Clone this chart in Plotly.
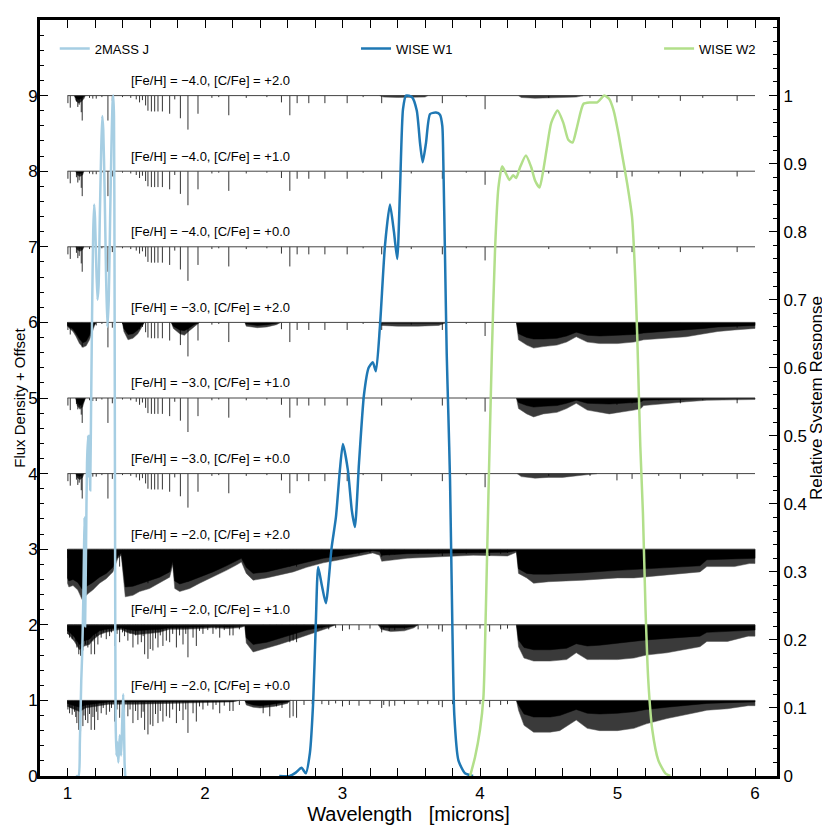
"""Synthetic spectra of carbon-enhanced stars with 2MASS J / WISE filter curves."""

import plotly.graph_objects as go

FONT = "Liberation Sans, Arial, Helvetica, sans-serif"
J_COLOR = "#a6cee3"
W1_COLOR = "#1f78b4"
W2_COLOR = "#b2df8a"

# --- spectra: vertical offset, [Fe/H], [C/Fe] ---
OFFSETS = [9, 8, 7, 6, 5, 4, 3, 2, 1]
FEH = [-4.0, -4.0, -4.0, -3.0, -3.0, -3.0, -2.0, -2.0, -2.0]
CFE = [2.0, 1.0, 0.0, 2.0, 1.0, 0.0, 2.0, 1.0, 0.0]
WL_START = 1.0
WL_END = 6.0

# individual absorption lines (wavelength [micron], depth below continuum)
LINES_WEAK = [
    (1.003, 0.10), (1.02, 0.16), (1.065, 0.08), (1.075, 0.15), (1.085, 0.12),
    (1.10, 0.22), (1.107, 0.33), (1.16, 0.03), (1.184, 0.04), (1.209, 0.04),
    (1.25, 0.02), (1.294, 0.33), (1.326, 0.07), (1.40, 0.02), (1.46, 0.03),
    (1.50, 0.05), (1.524, 0.09), (1.545, 0.06), (1.568, 0.13), (1.585, 0.20),
    (1.61, 0.21), (1.634, 0.21), (1.658, 0.21), (1.69, 0.21), (1.743, 0.24),
    (1.78, 0.05), (1.821, 0.30), (1.876, 0.45), (1.949, 0.24), (2.05, 0.03),
    (2.10, 0.02), (2.173, 0.26), (2.30, 0.03), (2.45, 0.02), (2.556, 0.09),
    (2.617, 0.26), (2.67, 0.10), (2.755, 0.10), (2.872, 0.10), (3.034, 0.10),
    (3.15, 0.02), (3.285, 0.10), (3.50, 0.03), (3.726, 0.10), (3.90, 0.02),
    (4.037, 0.18), (4.50, 0.03), (4.80, 0.03), (4.996, 0.09), (5.106, 0.07),
    (5.30, 0.03), (5.457, 0.07), (5.62, 0.03), (5.87, 0.07),
]

LINES_FE2 = [
    (1.003, 0.12), (1.015, 0.17), (1.025, 0.10), (1.034, 0.19), (1.051, 0.15),
    (1.060, 0.22), (1.068, 0.30), (1.082, 0.39), (1.095, 0.41), (1.112, 0.34),
    (1.120, 0.20), (1.131, 0.26), (1.148, 0.30), (1.160, 0.18), (1.172, 0.39),
    (1.185, 0.22), (1.197, 0.39), (1.210, 0.15), (1.221, 0.26), (1.245, 0.17),
    (1.260, 0.10), (1.282, 0.19), (1.306, 0.15), (1.320, 0.10), (1.342, 0.28),
    (1.360, 0.12), (1.379, 0.23), (1.400, 0.10), (1.415, 0.15), (1.439, 0.21),
    (1.455, 0.12), (1.476, 0.30), (1.495, 0.14), (1.512, 0.26), (1.537, 0.23),
    (1.550, 0.15), (1.561, 0.39), (1.585, 0.45), (1.602, 0.32), (1.621, 0.34),
    (1.640, 0.18), (1.658, 0.30), (1.675, 0.14), (1.694, 0.28), (1.719, 0.21),
    (1.743, 0.23), (1.765, 0.12), (1.792, 0.30), (1.815, 0.14), (1.840, 0.26),
    (1.860, 0.12), (1.876, 0.43), (1.913, 0.17), (1.937, 0.28), (1.960, 0.08),
    (1.985, 0.12), (2.020, 0.07), (2.058, 0.12), (2.080, 0.06), (2.107, 0.17),
    (2.140, 0.07), (2.180, 0.14), (2.204, 0.14), (2.250, 0.06), (2.423, 0.17),
    (2.471, 0.21), (2.520, 0.08), (2.560, 0.10), (2.617, 0.23), (2.641, 0.21),
    (2.666, 0.23), (2.720, 0.06), (2.780, 0.05), (2.850, 0.05), (2.900, 0.06),
    (2.950, 0.04), (3.000, 0.08), (3.050, 0.06), (3.120, 0.07), (3.200, 0.05),
    (3.285, 0.10), (3.300, 0.06), (3.340, 0.08), (3.380, 0.07), (3.450, 0.05),
    (3.550, 0.06), (3.620, 0.05), (3.700, 0.06), (3.726, 0.09), (3.800, 0.05),
    (3.900, 0.06), (4.000, 0.05), (4.070, 0.09), (4.150, 0.06), (4.200, 0.05),
]

# molecular bands: (wavelength, depth of the solid core, depth of the line fringe)
BANDS_M4_C2 = [
    [(1.05, 0, 0), (1.06, 0.03, 0.06), (1.08, 0.05, 0.10), (1.10, 0.04, 0.08), (1.12, 0.01, 0.04), (1.13, 0, 0)],
    [(3.27, 0, 0), (3.30, 0, 0.02), (3.40, 0, 0.025), (3.50, 0, 0.025), (3.60, 0, 0.02), (3.62, 0, 0)],
    [(4.28, 0, 0), (4.30, 0, 0.025), (4.40, 0.005, 0.035), (4.50, 0.005, 0.03), (4.60, 0.005, 0.03),
     (4.70, 0, 0.02), (4.75, 0, 0)],
]
BANDS_M4_C1 = [
    [(1.06, 0, 0), (1.07, 0.02, 0.05), (1.09, 0.03, 0.07), (1.11, 0.02, 0.05), (1.12, 0, 0)],
]
BANDS_M4_C0 = [
    [(1.06, 0, 0), (1.07, 0.01, 0.04), (1.09, 0.02, 0.06), (1.11, 0.01, 0.04), (1.12, 0, 0)],
]
BANDS_M3_C2 = [
    [(1.0, 0, 0), (1.0, 0.04, 0.05), (1.015, 0.06, 0.08), (1.04, 0.09, 0.12), (1.063, 0.15, 0.19),
     (1.087, 0.22, 0.28), (1.112, 0.27, 0.33), (1.136, 0.25, 0.31), (1.16, 0.17, 0.23),
     (1.18, 0.08, 0.12), (1.197, 0.02, 0.04), (1.21, 0, 0)],
    [(1.40, 0, 0), (1.41, 0.08, 0.12), (1.44, 0.16, 0.23), (1.476, 0.15, 0.21), (1.512, 0.10, 0.15),
     (1.54, 0.03, 0.06), (1.56, 0, 0)],
    [(1.755, 0, 0), (1.77, 0.05, 0.08), (1.816, 0.10, 0.15), (1.85, 0.11, 0.17), (1.88, 0.08, 0.12),
     (1.92, 0.03, 0.06), (1.96, 0, 0)],
    [(2.29, 0, 0), (2.30, 0.02, 0.05), (2.38, 0.04, 0.07), (2.45, 0.03, 0.06), (2.52, 0.01, 0.03), (2.55, 0, 0)],
    [(3.26, 0, 0), (3.28, 0.01, 0.04), (3.40, 0.01, 0.05), (3.55, 0.01, 0.05), (3.70, 0.01, 0.04), (3.76, 0, 0)],
    [(4.265, 0, 0), (4.28, 0.15, 0.23), (4.34, 0.20, 0.30), (4.39, 0.22, 0.34), (4.46, 0.22, 0.32),
     (4.56, 0.21, 0.30), (4.63, 0.18, 0.26), (4.70, 0.13, 0.19), (4.78, 0.17, 0.26), (4.87, 0.18, 0.28),
     (5.0, 0.17, 0.28), (5.12, 0.16, 0.26), (5.19, 0.14, 0.23), (5.36, 0.12, 0.21), (5.50, 0.10, 0.19),
     (5.63, 0.08, 0.15), (5.73, 0.06, 0.12), (5.85, 0.05, 0.10), (5.95, 0.04, 0.08), (6.0, 0.04, 0.08),
     (6.0, 0, 0)],
]
BANDS_M3_C1 = [
    [(1.06, 0, 0), (1.07, 0.06, 0.10), (1.09, 0.10, 0.15), (1.11, 0.08, 0.12), (1.13, 0, 0)],
    [(4.265, 0, 0), (4.28, 0.06, 0.14), (4.34, 0.10, 0.21), (4.39, 0.12, 0.25), (4.46, 0.11, 0.21),
     (4.56, 0.10, 0.19), (4.63, 0.07, 0.14), (4.70, 0.03, 0.07), (4.78, 0.07, 0.16), (4.87, 0.08, 0.19),
     (4.94, 0.08, 0.21), (5.12, 0.06, 0.16), (5.17, 0.05, 0.14), (5.19, 0.03, 0.10), (5.36, 0.02, 0.07),
     (5.50, 0.015, 0.05), (5.65, 0.01, 0.03), (5.85, 0.005, 0.02), (6.0, 0.005, 0.02), (6.0, 0, 0)],
]
BANDS_M3_C0 = [
    [(1.06, 0, 0), (1.07, 0.02, 0.05), (1.09, 0.04, 0.08), (1.11, 0.02, 0.05), (1.12, 0, 0)],
    [(4.27, 0, 0), (4.30, 0, 0.04), (4.40, 0.005, 0.06), (4.50, 0.005, 0.05), (4.60, 0.005, 0.05),
     (4.70, 0, 0.03), (4.80, 0, 0.015), (4.85, 0, 0)],
]
BANDS_M2_C2 = [
    [(1.0, 0, 0), (1.0, 0.38, 0.45), (1.01, 0.42, 0.50), (1.04, 0.40, 0.48), (1.075, 0.44, 0.54),
     (1.107, 0.53, 0.67), (1.148, 0.48, 0.59), (1.184, 0.44, 0.54), (1.233, 0.37, 0.45),
     (1.282, 0.32, 0.39), (1.33, 0.24, 0.30), (1.366, 0.09, 0.12), (1.391, 0.05, 0.08),
     (1.405, 0.25, 0.35), (1.42, 0.50, 0.63), (1.476, 0.49, 0.61), (1.524, 0.46, 0.56),
     (1.597, 0.42, 0.52), (1.67, 0.37, 0.45), (1.743, 0.30, 0.37), (1.765, 0.16, 0.21),
     (1.78, 0.42, 0.52), (1.816, 0.46, 0.56), (1.889, 0.42, 0.52), (1.961, 0.37, 0.45),
     (2.058, 0.30, 0.37), (2.156, 0.22, 0.28), (2.228, 0.16, 0.21), (2.265, 0.12, 0.17),
     (2.30, 0.24, 0.32), (2.35, 0.32, 0.41), (2.447, 0.30, 0.38), (2.544, 0.26, 0.34),
     (2.641, 0.22, 0.30), (2.739, 0.17, 0.24), (2.86, 0.12, 0.18), (2.98, 0.09, 0.14),
     (3.10, 0.05, 0.09), (3.22, 0.02, 0.05), (3.27, 0.03, 0.08), (3.285, 0.08, 0.16),
     (3.47, 0.06, 0.12), (3.76, 0.05, 0.10), (3.95, 0.04, 0.08), (4.20, 0.04, 0.09),
     (4.265, 0.02, 0.04), (4.28, 0.26, 0.32), (4.34, 0.32, 0.38), (4.39, 0.33, 0.45),
     (4.50, 0.33, 0.43), (4.75, 0.31, 0.41), (5.0, 0.28, 0.38), (5.12, 0.27, 0.38),
     (5.36, 0.25, 0.34), (5.60, 0.22, 0.30), (5.65, 0.14, 0.23), (5.85, 0.13, 0.23),
     (5.96, 0.12, 0.19), (6.0, 0.12, 0.19), (6.0, 0, 0)],
]
BANDS_M2_C1 = [
    [(1.0, 0, 0), (1.0, 0.08, 0.12), (1.015, 0.10, 0.14), (1.05, 0.16, 0.22), (1.087, 0.26, 0.33),
     (1.124, 0.21, 0.28), (1.16, 0.19, 0.26), (1.184, 0.14, 0.20), (1.233, 0.08, 0.13),
     (1.28, 0.06, 0.10), (1.33, 0.05, 0.08), (1.39, 0.04, 0.06), (1.43, 0.06, 0.10),
     (1.50, 0.08, 0.13), (1.57, 0.07, 0.12), (1.67, 0.06, 0.10), (1.74, 0.04, 0.06),
     (1.85, 0.04, 0.06), (1.98, 0.03, 0.05), (2.06, 0.02, 0.04), (2.16, 0.03, 0.05),
     (2.25, 0.02, 0.04), (2.29, 0.01, 0.02), (2.30, 0.17, 0.24), (2.35, 0.26, 0.36),
     (2.45, 0.23, 0.31), (2.54, 0.18, 0.26), (2.64, 0.12, 0.20), (2.74, 0.07, 0.14),
     (2.84, 0.04, 0.08), (2.90, 0.02, 0.04), (2.95, 0, 0)],
    [(3.26, 0, 0), (3.28, 0.03, 0.06), (3.35, 0.04, 0.09), (3.45, 0.04, 0.08), (3.52, 0.02, 0.04), (3.55, 0, 0)],
    [(4.265, 0, 0), (4.28, 0.20, 0.29), (4.32, 0.30, 0.44), (4.39, 0.33, 0.48), (4.51, 0.33, 0.48),
     (4.63, 0.31, 0.46), (4.70, 0.25, 0.37), (4.78, 0.28, 0.46), (4.87, 0.27, 0.46), (5.0, 0.24, 0.46),
     (5.12, 0.22, 0.44), (5.21, 0.20, 0.40), (5.36, 0.18, 0.37), (5.48, 0.16, 0.33), (5.60, 0.15, 0.29),
     (5.65, 0.10, 0.22), (5.80, 0.09, 0.22), (5.95, 0.07, 0.15), (6.0, 0.07, 0.15), (6.0, 0, 0)],
]
BANDS_M2_C0 = [
    [(1.0, 0, 0), (1.0, 0.04, 0.08), (1.05, 0.07, 0.12), (1.09, 0.09, 0.15), (1.13, 0.06, 0.10),
     (1.20, 0.04, 0.08), (1.30, 0.02, 0.05), (1.50, 0.02, 0.05), (1.70, 0.02, 0.04),
     (1.90, 0.01, 0.03), (2.20, 0.01, 0.02), (2.25, 0, 0)],
    [(2.29, 0, 0), (2.30, 0.03, 0.06), (2.35, 0.06, 0.09), (2.40, 0.07, 0.10), (2.45, 0.06, 0.09),
     (2.50, 0.05, 0.08), (2.55, 0.03, 0.06), (2.60, 0.02, 0.04), (2.62, 0, 0)],
    [(4.265, 0, 0), (4.28, 0.06, 0.13), (4.32, 0.18, 0.33), (4.39, 0.22, 0.42), (4.51, 0.22, 0.42),
     (4.58, 0.20, 0.40), (4.70, 0.12, 0.26), (4.78, 0.17, 0.37), (4.87, 0.18, 0.40), (5.0, 0.17, 0.40),
     (5.12, 0.15, 0.37), (5.21, 0.12, 0.31), (5.36, 0.09, 0.24), (5.48, 0.07, 0.20), (5.60, 0.05, 0.15),
     (5.65, 0.04, 0.13), (5.80, 0.03, 0.11), (5.95, 0.02, 0.07), (6.0, 0.02, 0.07), (6.0, 0, 0)],
]

SPEC_LINES = [LINES_WEAK] * 6 + [LINES_FE2] * 3
SPEC_BANDS = [BANDS_M4_C2, BANDS_M4_C1, BANDS_M4_C0,
              BANDS_M3_C2, BANDS_M3_C1, BANDS_M3_C0,
              BANDS_M2_C2, BANDS_M2_C1, BANDS_M2_C0]

# --- filter relative system response curves ---
J_WL = [1.06, 1.08, 1.09, 1.10, 1.107, 1.115, 1.12, 1.124, 1.128, 1.135, 1.142, 1.15,
        1.155, 1.16, 1.165, 1.172, 1.18, 1.187, 1.194, 1.20, 1.208, 1.218, 1.226, 1.235,
        1.245, 1.253, 1.26, 1.27, 1.28, 1.29, 1.30, 1.31, 1.32, 1.328, 1.333, 1.338,
        1.342, 1.346, 1.35, 1.356, 1.362, 1.37, 1.38, 1.39, 1.398, 1.405, 1.41, 1.415, 1.42]
J_RSR = [0.0, 0.0, 0.05, 0.14, 0.18, 0.26, 0.33, 0.38, 0.22, 0.34, 0.46, 0.50,
         0.44, 0.50, 0.42, 0.55, 0.70, 0.80, 0.84, 0.82, 0.76, 0.70, 0.72, 0.82,
         0.92, 0.97, 0.95, 0.86, 0.74, 0.66, 0.70, 0.82, 0.93, 0.99, 1.0, 0.97,
         0.75, 0.35, 0.08, 0.03, 0.05, 0.02, 0.06, 0.03, 0.08, 0.12, 0.09, 0.02, 0.0]

W1_WL = [2.54, 2.617, 2.66, 2.702, 2.733, 2.763, 2.787, 2.806, 2.823, 2.85, 2.879, 2.921,
         2.952, 2.981, 3.003, 3.039, 3.068, 3.09, 3.12, 3.156, 3.19, 3.22, 3.243, 3.272,
         3.309, 3.345, 3.374, 3.398, 3.418, 3.44, 3.462, 3.505, 3.54, 3.564, 3.583, 3.607,
         3.637, 3.68, 3.709, 3.726, 3.733, 3.746, 3.758, 3.77, 3.782, 3.799, 3.813, 3.843,
         3.891, 3.95]
W1_RSR = [0.0, 0.0, 0.005, 0.012, 0.004, 0.034, 0.11, 0.225, 0.307, 0.28, 0.254, 0.336,
          0.38, 0.45, 0.488, 0.45, 0.39, 0.366, 0.46, 0.56, 0.60, 0.608, 0.595, 0.66,
          0.78, 0.84, 0.80, 0.76, 0.86, 0.98, 1.0, 0.998, 0.978, 0.93, 0.902, 0.93,
          0.973, 0.975, 0.972, 0.955, 0.905, 0.758, 0.62, 0.53, 0.435, 0.22, 0.09, 0.023,
          0.004, 0.0]

W2_WL = [3.928, 3.964, 4.0, 4.025, 4.042, 4.061, 4.086, 4.11, 4.134, 4.161, 4.19, 4.214,
         4.241, 4.263, 4.292, 4.334, 4.372, 4.401, 4.433, 4.46, 4.487, 4.518, 4.564, 4.606,
         4.642, 4.673, 4.707, 4.753, 4.802, 4.853, 4.904, 4.94, 4.972, 5.006, 5.032, 5.071,
         5.106, 5.13, 5.146, 5.166, 5.185, 5.204, 5.224, 5.253, 5.297, 5.348, 5.384]
W2_RSR = [0.0, 0.028, 0.068, 0.116, 0.24, 0.41, 0.62, 0.777, 0.865, 0.896, 0.885, 0.876,
          0.883, 0.879, 0.895, 0.912, 0.895, 0.875, 0.865, 0.89, 0.924, 0.96, 0.978, 0.96,
          0.935, 0.931, 0.955, 0.988, 0.99, 0.99, 1.0, 0.995, 0.978, 0.945, 0.915, 0.87,
          0.821, 0.728, 0.63, 0.484, 0.386, 0.244, 0.14, 0.068, 0.023, 0.004, 0.0]

# name, wavelengths, response, colour, legend slot
FILTERS = [("2MASS J", J_WL, J_RSR, J_COLOR, "legend"),
           ("WISE W1", W1_WL, W1_RSR, W1_COLOR, "legend2"),
           ("WISE W2", W2_WL, W2_RSR, W2_COLOR, "legend3")]

LABEL_WL = 1.45
LABEL_DY = 0.2


def fmt(v):
    return f"{v:+.1f}".replace("-", "\u2212")


def line_xy(lines, off):
    xs, ys = [], []
    for wl, d in lines:
        xs += [wl, wl, None]
        ys += [off, off - d, None]
    return xs, ys


def band_xy(bands, off, col):
    # col 1 -> solid core envelope, col 2 -> fringe envelope
    xs, ys = [], []
    for band in bands:
        xs += [p[0] for p in band] + [None]
        ys += [off - p[col] for p in band] + [None]
    return xs, ys


fig = go.Figure()

for off, feh, cfe, lines, bands in zip(OFFSETS, FEH, CFE, SPEC_LINES, SPEC_BANDS):
    fx, fy = band_xy(bands, off, 2)
    fig.add_trace(go.Scatter(x=fx, y=fy, mode="lines", fill="toself",
                             fillcolor="#3a3a3a", line=dict(color="#555555", width=0.5),
                             showlegend=False, hoverinfo="skip"))
    cx, cy = band_xy(bands, off, 1)
    fig.add_trace(go.Scatter(x=cx, y=cy, mode="lines", fill="toself",
                             fillcolor="black", line=dict(color="black", width=0.5),
                             showlegend=False, hoverinfo="skip"))
    lx, ly = line_xy(lines, off)
    fig.add_trace(go.Scatter(x=lx, y=ly, mode="lines",
                             line=dict(color="rgba(0,0,0,0.8)", width=1),
                             showlegend=False, hoverinfo="skip"))
    fig.add_trace(go.Scatter(x=[WL_START, WL_END], y=[off, off], mode="lines",
                             line=dict(color="#444444", width=1),
                             showlegend=False, hoverinfo="skip"))
    fig.add_annotation(x=LABEL_WL, y=off + LABEL_DY, xanchor="left", yanchor="middle",
                       text=f"[Fe/H] = {fmt(feh)}, [C/Fe] = {fmt(cfe)}",
                       showarrow=False, font=dict(size=13, color="black"))

for name, wl, rsr, color, leg in FILTERS:
    fig.add_trace(go.Scatter(x=wl, y=rsr, mode="lines", name=name, yaxis="y2",
                             legend=leg, line=dict(color=color, width=2.5,
                                                   shape="spline", smoothing=0.6)))

# axis titles as rotated annotations so they sit where the reference has them
fig.add_annotation(xref="paper", yref="paper", x=-0.0288, y=0.5, textangle=-90,
                   text="Flux Density + Offset", showarrow=False,
                   xanchor="center", yanchor="middle", font=dict(size=15))
fig.add_annotation(xref="paper", yref="paper", x=1.053, y=0.5, textangle=-90,
                   text="Relative System Response", showarrow=False,
                   xanchor="center", yanchor="middle", font=dict(size=17))

axis_common = dict(showline=True, linewidth=3, linecolor="black", ticks="inside",
                   ticklen=8, tickwidth=1, tickcolor="black", showgrid=False,
                   zeroline=False, automargin=False)
legend_common = dict(orientation="h", y=0.982, xanchor="left", yanchor="top",
                     font=dict(size=13), bgcolor="rgba(0,0,0,0)", itemwidth=30)

fig.update_layout(
    width=822, height=822,
    margin=dict(l=32, r=53, t=12, b=54),
    plot_bgcolor="white", paper_bgcolor="white",
    font=dict(family=FONT, size=17, color="black"),
    legend=dict(x=0.02, **legend_common),
    legend2=dict(x=0.4288, **legend_common),
    legend3=dict(x=0.840, **legend_common),
    xaxis=dict(range=[0.8, 6.16], tickmode="linear", tick0=0, dtick=1,
               mirror="allticks",
               minor=dict(tickmode="linear", tick0=0, dtick=0.2, ticks="inside",
                          ticklen=4, tickcolor="black"),
               title=dict(text="Wavelength\u00a0\u00a0 [microns]", standoff=0),
               **axis_common),
    yaxis=dict(range=[0, 10], tickmode="array", tickvals=list(range(10)),
               ticklabelstandoff=-4,
               minor=dict(tickmode="linear", tick0=0, dtick=0.2, ticks="inside",
                          ticklen=4, tickcolor="black"),
               **axis_common),
    yaxis2=dict(range=[0, 10 / 9], overlaying="y", side="right", tickmode="array",
                tickvals=[i / 10 for i in range(11)],
                ticktext=["0"] + [f"{i / 10:.1f}" for i in range(1, 10)] + ["1"],
                minor=dict(tickmode="linear", tick0=0, dtick=0.02, ticks="inside",
                           ticklen=4, tickcolor="black"),
                **axis_common),
)

fig.write_html("out.html")
